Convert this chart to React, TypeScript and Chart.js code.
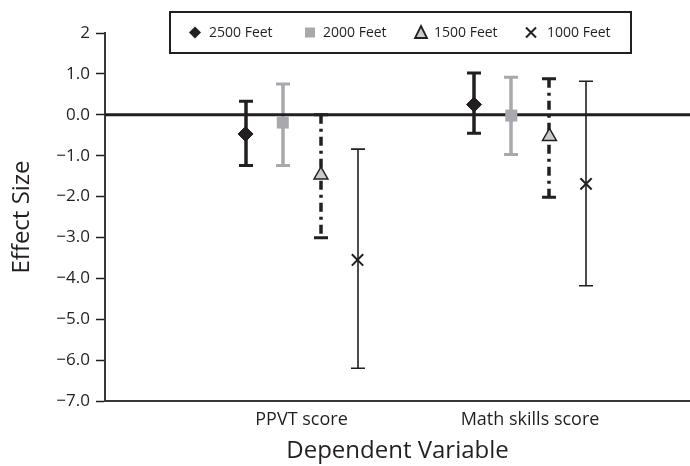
import React, { useEffect, useRef } from 'react';
import { Chart, registerables } from 'chart.js';

Chart.register(...registerables);

const categories = ['PPVT score', 'Math skills score'];
const seriesLabels = ['2500 Feet', '2000 Feet', '1500 Feet', '1000 Feet'];

const mean2500 = [-0.47, 0.25];
const low2500 = [-1.24, -0.45];
const high2500 = [0.33, 1.02];

const mean2000 = [-0.19, -0.02];
const low2000 = [-1.24, -0.97];
const high2000 = [0.75, 0.92];

const mean1500 = [-1.47, -0.53];
const low1500 = [-3.01, -2.02];
const high1500 = [0.0, 0.88];

const mean1000 = [-3.55, -1.69];
const low1000 = [-6.2, -4.18];
const high1000 = [-0.84, 0.82];

const yMin = -7;
const yMax = 2;

const DARK = '#231f20';
const GRAY = '#a7a9ac';
const TRI_FILL = '#c9cacc';
const FONT = "'Open Sans', 'Noto Sans', sans-serif";

const groupOffsets = [-0.245, -0.082, 0.085, 0.245];

type Style = {
  pointStyle: string;
  radius: number;
  fill: string;
  stroke: string;
  pointBorder: number;
  errColor: string;
  errWidth: number;
  errDash: number[];
};

const styles: Style[] = [
  { pointStyle: 'rectRot', radius: 7.5, fill: DARK, stroke: DARK, pointBorder: 1, errColor: DARK, errWidth: 3.5, errDash: [] },
  { pointStyle: 'rect', radius: 8.5, fill: GRAY, stroke: GRAY, pointBorder: 0, errColor: GRAY, errWidth: 3.5, errDash: [] },
  { pointStyle: 'triangle', radius: 8, fill: TRI_FILL, stroke: DARK, pointBorder: 1.5, errColor: DARK, errWidth: 3.5, errDash: [9, 5, 3, 5] },
  { pointStyle: 'crossRot', radius: 8, fill: DARK, stroke: DARK, pointBorder: 2, errColor: DARK, errWidth: 1.6, errDash: [] },
];

const means = [mean2500, mean2000, mean1500, mean1000];
const lows = [low2500, low2000, low1500, low1000];
const highs = [high2500, high2000, high1500, high1000];

function drawLegendMarker(ctx: CanvasRenderingContext2D, kind: string, x: number, y: number) {
  ctx.save();
  ctx.beginPath();
  if (kind === 'rectRot') {
    const r = 6;
    ctx.moveTo(x, y - r);
    ctx.lineTo(x + r, y);
    ctx.lineTo(x, y + r);
    ctx.lineTo(x - r, y);
    ctx.closePath();
    ctx.fillStyle = DARK;
    ctx.fill();
  } else if (kind === 'rect') {
    ctx.fillStyle = GRAY;
    ctx.fillRect(x - 5, y - 5, 10, 10);
  } else if (kind === 'triangle') {
    ctx.moveTo(x, y - 6.5);
    ctx.lineTo(x + 6, y + 5.5);
    ctx.lineTo(x - 6, y + 5.5);
    ctx.closePath();
    ctx.fillStyle = TRI_FILL;
    ctx.fill();
    ctx.lineWidth = 1.8;
    ctx.strokeStyle = DARK;
    ctx.stroke();
  } else {
    const r = 5;
    ctx.moveTo(x - r, y - r);
    ctx.lineTo(x + r, y + r);
    ctx.moveTo(x + r, y - r);
    ctx.lineTo(x - r, y + r);
    ctx.lineWidth = 2;
    ctx.strokeStyle = DARK;
    ctx.stroke();
  }
  ctx.restore();
}

const errorBarPlugin = {
  id: 'errorBarsAndLegend',
  beforeDatasetsDraw(chart: any) {
    const { ctx, chartArea } = chart;
    const xs = chart.scales.x;
    const ys = chart.scales.y;
    chart.data.datasets.forEach((ds: any) => {
      ds.data.forEach((pt: any, i: number) => {
        const px = Math.round(xs.getPixelForValue(pt.x));
        const pHigh = ys.getPixelForValue(ds.errHigh[i]);
        const pLow = ys.getPixelForValue(ds.errLow[i]);
        ctx.save();
        ctx.strokeStyle = ds.errColor;
        ctx.lineWidth = ds.errWidth;
        ctx.setLineDash(ds.errDash);
        ctx.beginPath();
        ctx.moveTo(px, pHigh);
        ctx.lineTo(px, pLow);
        ctx.stroke();
        ctx.setLineDash([]);
        ctx.lineWidth = ds.errWidth >= 3 ? 3 : 1.6;
        ctx.beginPath();
        ctx.moveTo(px - 7, pHigh);
        ctx.lineTo(px + 7, pHigh);
        ctx.moveTo(px - 7, pLow);
        ctx.lineTo(px + 7, pLow);
        ctx.stroke();
        ctx.restore();
      });
    });
    const y0 = ys.getPixelForValue(0);
    ctx.save();
    ctx.strokeStyle = DARK;
    ctx.lineWidth = 3;
    ctx.beginPath();
    ctx.moveTo(chartArea.left, y0);
    ctx.lineTo(chartArea.right, y0);
    ctx.stroke();
    ctx.restore();
  },
  afterDraw(chart: any) {
    const { ctx } = chart;
    const boxL = 170;
    const boxT = 12;
    const boxW = 461;
    const boxH = 41;
    ctx.save();
    ctx.fillStyle = '#ffffff';
    ctx.fillRect(boxL, boxT, boxW, boxH);
    ctx.strokeStyle = DARK;
    ctx.lineWidth = 2;
    ctx.strokeRect(boxL, boxT, boxW, boxH);
    ctx.font = `14px ${FONT}`;
    ctx.fillStyle = DARK;
    ctx.textBaseline = 'middle';
    ctx.textAlign = 'left';
    const cy = boxT + boxH / 2;
    const markerX = [195, 310, 421, 531];
    const textX = [209, 323, 434, 547];
    chart.data.datasets.forEach((ds: any, i: number) => {
      drawLegendMarker(ctx, ds.pointStyle, markerX[i], cy);
      ctx.fillStyle = DARK;
      ctx.fillText(ds.label, textX[i], cy + 0.5);
    });
    ctx.restore();
  },
};

export default function App() {
  const canvasRef = useRef<HTMLCanvasElement | null>(null);

  useEffect(() => {
    document.body.style.margin = '0';
    const canvas = canvasRef.current;
    if (!canvas) return;

    const datasets = seriesLabels.map((label, s) => {
      const st = styles[s];
      return {
        type: 'scatter' as const,
        label,
        data: means[s].map((m, i) => ({ x: i + 1 + groupOffsets[s], y: m })),
        errLow: lows[s],
        errHigh: highs[s],
        errColor: st.errColor,
        errWidth: st.errWidth,
        errDash: st.errDash,
        pointStyle: st.pointStyle,
        pointRadius: st.radius,
        pointHoverRadius: st.radius,
        backgroundColor: st.fill,
        borderColor: st.stroke,
        borderWidth: st.pointBorder,
        showLine: false,
      };
    });

    const chart = new Chart(canvas, {
      type: 'scatter',
      data: { datasets: datasets as any },
      plugins: [errorBarPlugin as any],
      options: {
        animation: false,
        responsive: false,
        devicePixelRatio: 1,
        events: [],
        layout: { padding: { top: 33, left: 0, right: 0, bottom: 0 } },
        plugins: {
          legend: { display: false },
          tooltip: { enabled: false },
        },
        scales: {
          x: {
            type: 'linear',
            min: 0.14,
            max: 2.7,
            afterBuildTicks: (axis: any) => {
              axis.ticks = categories.map((_, i) => ({ value: i + 1 }));
            },
            afterFit: (axis: any) => {
              axis.height = 65;
              axis.paddingLeft = 0;
              axis.paddingRight = 0;
            },
            grid: {
              display: true,
              drawOnChartArea: false,
              drawTicks: false,
              color: 'rgba(0,0,0,0)',
            },
            border: { display: true, color: '#3a3637', width: 2 },
            ticks: {
              autoSkip: false,
              maxRotation: 0,
              padding: 8,
              color: DARK,
              font: { family: FONT, size: 18 },
              callback: (v: any) => categories[Math.round(Number(v)) - 1] ?? '',
            },
            title: {
              display: true,
              text: 'Dependent Variable',
              color: DARK,
              font: { family: FONT, size: 24 },
              padding: { top: 0, bottom: 0 },
            },
          },
          y: {
            type: 'linear',
            min: yMin,
            max: yMax,
            afterFit: (axis: any) => {
              axis.width = 105;
            },
            grid: {
              display: true,
              drawOnChartArea: false,
              drawTicks: true,
              tickLength: 9,
              tickColor: DARK,
              tickWidth: 1.5,
            },
            border: { display: true, color: '#3a3637', width: 2 },
            ticks: {
              stepSize: 1,
              padding: 6,
              color: DARK,
              font: { family: FONT, size: 17 },
              callback: (v: any) => {
                const n = Number(v);
                if (n === yMax) return String(yMax);
                return n.toFixed(1).replace('-', '\u2212');
              },
            },
            title: {
              display: true,
              text: 'Effect Size',
              color: DARK,
              font: { family: FONT, size: 24 },
              padding: { top: 8, bottom: 0 },
            },
          },
        },
      },
    });

    return () => {
      chart.destroy();
    };
  }, []);

  return (
    <div style={{ width: 690, height: 466, position: 'relative', overflow: 'hidden', background: '#ffffff' }}>
      <canvas ref={canvasRef} width={700} height={466} />
    </div>
  );
}
